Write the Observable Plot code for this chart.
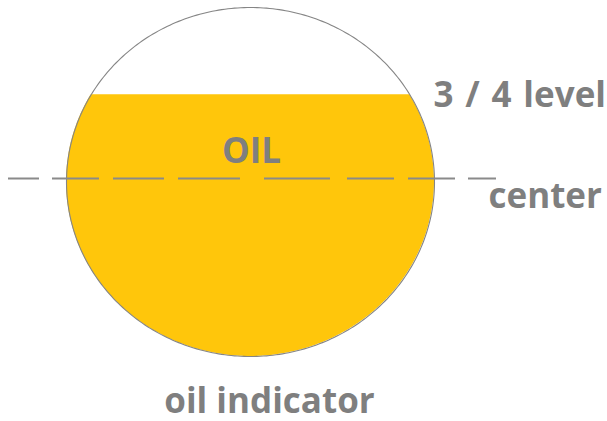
<!DOCTYPE html>
<html>
<head>
<meta charset="utf-8">
<script src="https://cdn.jsdelivr.net/npm/d3@7"></script>
<script src="https://cdn.jsdelivr.net/npm/@observablehq/plot@0.6"></script>
<style>
  html, body { margin: 0; padding: 0; background: #fff; }
  #chart svg { display: block; }
</style>
</head>
<body>
<div id="chart"></div>
<script>
// ---- data (fractions of the tank diameter, measured from the bottom) ----
const levelNames = ["3 / 4 level", "center"];
const levelValues = [0.75, 0.5];
const oilLevel = 0.75;
const fluidLabel = ["OIL"];
const chartTitle = ["oil indicator"];

// convert "fraction of diameter" to unit-circle y (-1 bottom .. 1 top)
const toY = f => 2 * f - 1;
const oilY = toY(oilLevel);

// tank geometry (unit circle) for the outline and the oil segment
const N = 360;
const outline = d3.range(N + 1).map(i => {
  const t = (i / N) * 2 * Math.PI;
  return {x: Math.cos(t), y: Math.sin(t)};
});
const oil = d3.range(N + 1).map(i => {
  const t = (i / N) * Math.PI;
  const s = Math.sin(t);
  return {x: Math.cos(t), lo: -s, hi: Math.min(s, oilY)};
});

const font = "'Open Sans', Lato, sans-serif";
const textColor = "#7f7f7f";
const fs = 35;

const chart = Plot.plot({
  width: 607,
  height: 421,
  margin: 0,
  x: {domain: [-1, 1], range: [66, 434], axis: null},
  y: {domain: [-1, 1], range: [356, 7], axis: null},
  style: {fontFamily: font, background: "#fff"},
  marks: [
    Plot.areaY(oil, {x: "x", y1: "lo", y2: "hi", fill: "#FFC60B", curve: "linear"}),
    Plot.line(outline, {x: "x", y: "y", stroke: "#858585", strokeWidth: 1.1, curve: "linear"}),
    Plot.ruleY([toY(levelValues[1])], {
      stroke: "#8a8a8a", strokeWidth: 1.8, insetLeft: 8, insetRight: 111,
      strokeDasharray: "31,13,47,14,51,14,62,24,66,17,47,14,47,13,28,200",
      dy: -3.5
    }),
    Plot.text(fluidLabel, {
      x: () => 0, y: () => oilY, text: d => d,
      fontSize: fs, fontWeight: "bold", fill: textColor, dy: 57.5, dx: 1,
      textAnchor: "middle", lineAnchor: "middle"
    }),
    Plot.text([levelNames[0]], {
      x: () => 1, y: () => toY(levelValues[0]), text: d => d,
      fontSize: fs, fontWeight: "bold", fill: textColor, dx: -1, dy: 1.5,
      textAnchor: "start", lineAnchor: "middle", className: "lvl-label"
    }),
    Plot.text([levelNames[1]], {
      x: () => 1, y: () => toY(levelValues[1]), text: d => d,
      fontSize: fs, fontWeight: "bold", fill: textColor, dx: 54, dy: 14.3,
      textAnchor: "start", lineAnchor: "middle"
    }),
    Plot.text(chartTitle, {
      x: () => 0, y: () => -1, text: d => d,
      fontSize: fs, fontWeight: "bold", fill: textColor, dx: 19, dy: 44.8,
      textAnchor: "middle", lineAnchor: "middle"
    })
  ]
});
d3.select(chart).selectAll(".lvl-label text").style("word-spacing", "2.7px");
document.getElementById("chart").appendChild(chart);
</script>
</body>
</html>
